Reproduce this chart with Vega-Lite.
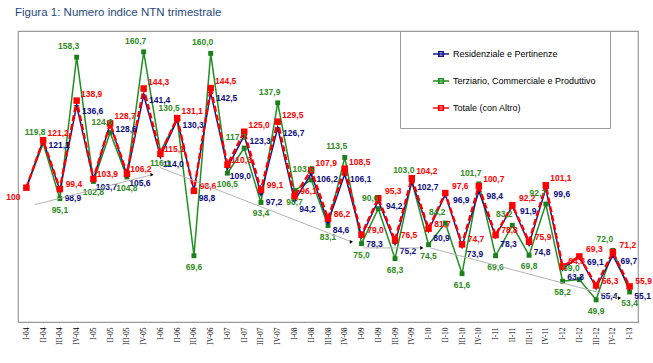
{
  "$schema": "https://vega.github.io/schema/vega-lite/v6.json",
  "width": 620,
  "height": 291,
  "autosize": {"type": "none"},
  "padding": {"left": 18, "top": 31, "right": 15, "bottom": 41},
  "background": "white",
  "title": {"text": "Figura 1: Numero indice NTN trimestrale", "anchor": "start", "frame": "group", "offset": 12, "dx": -3, "fontSize": 11.5, "font": "Liberation Sans", "fontWeight": "normal", "color": "#1f497d"},
  "config": {
    "locale": {"number": {"decimal": ",", "thousands": ".", "grouping": [3], "currency": ["", " €"]}},
    "view": {"stroke": "#9a9a9a", "strokeWidth": 1.2},
    "axis": {"grid": false, "labelOverlap": false, "labelBound": false, "labelFlush": false},
    "text": {"font": "Liberation Sans", "fontSize": 8.5, "fontWeight": "bold", "baseline": "middle", "align": "center"}
  },
  "datasets": {
    "ntn": [
      {"i": 0, "q": "I-04", "s": "Residenziale e Pertinenze", "v": 100},
      {"i": 0, "q": "I-04", "s": "Terziario, Commerciale e Produttivo", "v": 100},
      {"i": 0, "q": "I-04", "s": "Totale (con Altro)", "v": 100},
      {"i": 1, "q": "II-04", "s": "Residenziale e Pertinenze", "v": 121.1},
      {"i": 1, "q": "II-04", "s": "Terziario, Commerciale e Produttivo", "v": 119.8},
      {"i": 1, "q": "II-04", "s": "Totale (con Altro)", "v": 121.2},
      {"i": 2, "q": "III-04", "s": "Residenziale e Pertinenze", "v": 98.9},
      {"i": 2, "q": "III-04", "s": "Terziario, Commerciale e Produttivo", "v": 95.1},
      {"i": 2, "q": "III-04", "s": "Totale (con Altro)", "v": 99.4},
      {"i": 3, "q": "IV-04", "s": "Residenziale e Pertinenze", "v": 136.6},
      {"i": 3, "q": "IV-04", "s": "Terziario, Commerciale e Produttivo", "v": 158.3},
      {"i": 3, "q": "IV-04", "s": "Totale (con Altro)", "v": 138.9},
      {"i": 4, "q": "I-05", "s": "Residenziale e Pertinenze", "v": 103.7},
      {"i": 4, "q": "I-05", "s": "Terziario, Commerciale e Produttivo", "v": 102.8},
      {"i": 4, "q": "I-05", "s": "Totale (con Altro)", "v": 103.9},
      {"i": 5, "q": "II-05", "s": "Residenziale e Pertinenze", "v": 128.6},
      {"i": 5, "q": "II-05", "s": "Terziario, Commerciale e Produttivo", "v": 124.6},
      {"i": 5, "q": "II-05", "s": "Totale (con Altro)", "v": 128.7},
      {"i": 6, "q": "III-05", "s": "Residenziale e Pertinenze", "v": 105.6},
      {"i": 6, "q": "III-05", "s": "Terziario, Commerciale e Produttivo", "v": 104.8},
      {"i": 6, "q": "III-05", "s": "Totale (con Altro)", "v": 106.2},
      {"i": 7, "q": "IV-05", "s": "Residenziale e Pertinenze", "v": 141.4},
      {"i": 7, "q": "IV-05", "s": "Terziario, Commerciale e Produttivo", "v": 160.7},
      {"i": 7, "q": "IV-05", "s": "Totale (con Altro)", "v": 144.3},
      {"i": 8, "q": "I-06", "s": "Residenziale e Pertinenze", "v": 114.0},
      {"i": 8, "q": "I-06", "s": "Terziario, Commerciale e Produttivo", "v": 116.1},
      {"i": 8, "q": "I-06", "s": "Totale (con Altro)", "v": 115.1},
      {"i": 9, "q": "II-06", "s": "Residenziale e Pertinenze", "v": 130.3},
      {"i": 9, "q": "II-06", "s": "Terziario, Commerciale e Produttivo", "v": 130.5},
      {"i": 9, "q": "II-06", "s": "Totale (con Altro)", "v": 131.1},
      {"i": 10, "q": "III-06", "s": "Residenziale e Pertinenze", "v": 98.8},
      {"i": 10, "q": "III-06", "s": "Terziario, Commerciale e Produttivo", "v": 69.6},
      {"i": 10, "q": "III-06", "s": "Totale (con Altro)", "v": 98.6},
      {"i": 11, "q": "IV-06", "s": "Residenziale e Pertinenze", "v": 142.5},
      {"i": 11, "q": "IV-06", "s": "Terziario, Commerciale e Produttivo", "v": 160.0},
      {"i": 11, "q": "IV-06", "s": "Totale (con Altro)", "v": 144.5},
      {"i": 12, "q": "I-07", "s": "Residenziale e Pertinenze", "v": 109.0},
      {"i": 12, "q": "I-07", "s": "Terziario, Commerciale e Produttivo", "v": 106.5},
      {"i": 12, "q": "I-07", "s": "Totale (con Altro)", "v": 110.3},
      {"i": 13, "q": "II-07", "s": "Residenziale e Pertinenze", "v": 123.3},
      {"i": 13, "q": "II-07", "s": "Terziario, Commerciale e Produttivo", "v": 117.7},
      {"i": 13, "q": "II-07", "s": "Totale (con Altro)", "v": 125.0},
      {"i": 14, "q": "III-07", "s": "Residenziale e Pertinenze", "v": 97.2},
      {"i": 14, "q": "III-07", "s": "Terziario, Commerciale e Produttivo", "v": 93.4},
      {"i": 14, "q": "III-07", "s": "Totale (con Altro)", "v": 99.1},
      {"i": 15, "q": "IV-07", "s": "Residenziale e Pertinenze", "v": 126.7},
      {"i": 15, "q": "IV-07", "s": "Terziario, Commerciale e Produttivo", "v": 137.9},
      {"i": 15, "q": "IV-07", "s": "Totale (con Altro)", "v": 129.5},
      {"i": 16, "q": "I-08", "s": "Residenziale e Pertinenze", "v": 94.2},
      {"i": 16, "q": "I-08", "s": "Terziario, Commerciale e Produttivo", "v": 98.7},
      {"i": 16, "q": "I-08", "s": "Totale (con Altro)", "v": 96.1},
      {"i": 17, "q": "II-08", "s": "Residenziale e Pertinenze", "v": 106.2},
      {"i": 17, "q": "II-08", "s": "Terziario, Commerciale e Produttivo", "v": 103.5},
      {"i": 17, "q": "II-08", "s": "Totale (con Altro)", "v": 107.9},
      {"i": 18, "q": "III-08", "s": "Residenziale e Pertinenze", "v": 84.6},
      {"i": 18, "q": "III-08", "s": "Terziario, Commerciale e Produttivo", "v": 83.1},
      {"i": 18, "q": "III-08", "s": "Totale (con Altro)", "v": 86.2},
      {"i": 19, "q": "IV-08", "s": "Residenziale e Pertinenze", "v": 106.1},
      {"i": 19, "q": "IV-08", "s": "Terziario, Commerciale e Produttivo", "v": 113.5},
      {"i": 19, "q": "IV-08", "s": "Totale (con Altro)", "v": 108.5},
      {"i": 20, "q": "I-09", "s": "Residenziale e Pertinenze", "v": 78.3},
      {"i": 20, "q": "I-09", "s": "Terziario, Commerciale e Produttivo", "v": 75.0},
      {"i": 20, "q": "I-09", "s": "Totale (con Altro)", "v": 79.0},
      {"i": 21, "q": "II-09", "s": "Residenziale e Pertinenze", "v": 94.2},
      {"i": 21, "q": "II-09", "s": "Terziario, Commerciale e Produttivo", "v": 90.6},
      {"i": 21, "q": "II-09", "s": "Totale (con Altro)", "v": 95.3},
      {"i": 22, "q": "III-09", "s": "Residenziale e Pertinenze", "v": 75.2},
      {"i": 22, "q": "III-09", "s": "Terziario, Commerciale e Produttivo", "v": 68.3},
      {"i": 22, "q": "III-09", "s": "Totale (con Altro)", "v": 76.5},
      {"i": 23, "q": "IV-09", "s": "Residenziale e Pertinenze", "v": 102.7},
      {"i": 23, "q": "IV-09", "s": "Terziario, Commerciale e Produttivo", "v": 103.0},
      {"i": 23, "q": "IV-09", "s": "Totale (con Altro)", "v": 104.2},
      {"i": 24, "q": "I-10", "s": "Residenziale e Pertinenze", "v": 80.9},
      {"i": 24, "q": "I-10", "s": "Terziario, Commerciale e Produttivo", "v": 74.5},
      {"i": 24, "q": "I-10", "s": "Totale (con Altro)", "v": 81.7},
      {"i": 25, "q": "II-10", "s": "Residenziale e Pertinenze", "v": 96.9},
      {"i": 25, "q": "II-10", "s": "Terziario, Commerciale e Produttivo", "v": 84.2},
      {"i": 25, "q": "II-10", "s": "Totale (con Altro)", "v": 97.6},
      {"i": 26, "q": "III-10", "s": "Residenziale e Pertinenze", "v": 73.9},
      {"i": 26, "q": "III-10", "s": "Terziario, Commerciale e Produttivo", "v": 61.6},
      {"i": 26, "q": "III-10", "s": "Totale (con Altro)", "v": 74.7},
      {"i": 27, "q": "IV-10", "s": "Residenziale e Pertinenze", "v": 98.4},
      {"i": 27, "q": "IV-10", "s": "Terziario, Commerciale e Produttivo", "v": 101.7},
      {"i": 27, "q": "IV-10", "s": "Totale (con Altro)", "v": 100.7},
      {"i": 28, "q": "I-11", "s": "Residenziale e Pertinenze", "v": 78.3},
      {"i": 28, "q": "I-11", "s": "Terziario, Commerciale e Produttivo", "v": 69.6},
      {"i": 28, "q": "I-11", "s": "Totale (con Altro)", "v": 78.8},
      {"i": 29, "q": "II-11", "s": "Residenziale e Pertinenze", "v": 91.9},
      {"i": 29, "q": "II-11", "s": "Terziario, Commerciale e Produttivo", "v": 83.2},
      {"i": 29, "q": "II-11", "s": "Totale (con Altro)", "v": 92.2},
      {"i": 30, "q": "III-11", "s": "Residenziale e Pertinenze", "v": 74.8},
      {"i": 30, "q": "III-11", "s": "Terziario, Commerciale e Produttivo", "v": 69.8},
      {"i": 30, "q": "III-11", "s": "Totale (con Altro)", "v": 75.9},
      {"i": 31, "q": "IV-11", "s": "Residenziale e Pertinenze", "v": 99.6},
      {"i": 31, "q": "IV-11", "s": "Terziario, Commerciale e Produttivo", "v": 92.7},
      {"i": 31, "q": "IV-11", "s": "Totale (con Altro)", "v": 101.1},
      {"i": 32, "q": "I-12", "s": "Residenziale e Pertinenze", "v": 63.8},
      {"i": 32, "q": "I-12", "s": "Terziario, Commerciale e Produttivo", "v": 58.2},
      {"i": 32, "q": "I-12", "s": "Totale (con Altro)", "v": 64.8},
      {"i": 33, "q": "II-12", "s": "Residenziale e Pertinenze", "v": 69.1},
      {"i": 33, "q": "II-12", "s": "Terziario, Commerciale e Produttivo", "v": 59.0},
      {"i": 33, "q": "II-12", "s": "Totale (con Altro)", "v": 69.3},
      {"i": 34, "q": "III-12", "s": "Residenziale e Pertinenze", "v": 55.4},
      {"i": 34, "q": "III-12", "s": "Terziario, Commerciale e Produttivo", "v": 49.9},
      {"i": 34, "q": "III-12", "s": "Totale (con Altro)", "v": 56.3},
      {"i": 35, "q": "IV-12", "s": "Residenziale e Pertinenze", "v": 69.7},
      {"i": 35, "q": "IV-12", "s": "Terziario, Commerciale e Produttivo", "v": 72.0},
      {"i": 35, "q": "IV-12", "s": "Totale (con Altro)", "v": 71.2},
      {"i": 36, "q": "I-13", "s": "Residenziale e Pertinenze", "v": 55.1},
      {"i": 36, "q": "I-13", "s": "Terziario, Commerciale e Produttivo", "v": 53.4},
      {"i": 36, "q": "I-13", "s": "Totale (con Altro)", "v": 55.9}
    ],
    "trend": [
      {"x1": 0.5, "y1": 92.4, "x2": 7.5, "y2": 105.8},
      {"x1": 7.97, "y1": 109.0, "x2": 19.4, "y2": 75.8},
      {"x1": 20.1, "y1": 73.1, "x2": 23.6, "y2": 73.1},
      {"x1": 24.1, "y1": 73.1, "x2": 35.4, "y2": 50.7}
    ]
  },
  "encoding": {
    "y": {"type": "quantitative", "scale": {"domain": [40, 170], "nice": false, "zero": false}, "axis": null}
  },
  "layer": [
    {
      "data": {"name": "ntn"},
      "transform": [{"window": [{"op": "lag", "field": "v", "as": "prev"}], "groupby": ["s"], "sort": [{"field": "i", "order": "ascending"}]}],
      "encoding": {
        "x": {"field": "i", "type": "quantitative",
              "scale": {"domain": [-0.5, 36.5], "nice": false, "zero": false},
              "axis": {"title": null, "values": [0,1,2,3,4,5,6,7,8,9,10,11,12,13,14,15,16,17,18,19,20,21,22,23,24,25,26,27,28,29,30,31,32,33,34,35,36],
                "labelExpr": "['I-04','II-04','III-04','IV-04','I-05','II-05','III-05','IV-05','I-06','II-06','III-06','IV-06','I-07','II-07','III-07','IV-07','I-08','II-08','III-08','IV-08','I-09','II-09','III-09','IV-09','I-10','II-10','III-10','IV-10','I-11','II-11','III-11','IV-11','I-12','II-12','III-12','IV-12','I-13'][datum.value]",
                "labelAngle": -90, "labelFont": "Liberation Serif", "labelFontSize": 7.5, "labelColor": "black", "ticks": false, "domain": false, "labelPadding": 5, "labelFlush": false, "labelOverlap": false, "labelSeparation": 0}},
        "y": {"field": "v"}
      },
      "layer": [
        {
          "transform": [{"filter": "datum.s == 'Terziario, Commerciale e Produttivo'"}],
          "mark": {"type": "line", "strokeWidth": 1.5},
          "encoding": {
            "color": {"field": "s", "type": "nominal",
              "scale": {"domain": ["Residenziale e Pertinenze", "Terziario, Commerciale e Produttivo", "Totale (con Altro)"], "range": ["#16168a", "#1f8f1f", "#ff0000"]},
              "legend": {"title": null, "orient": "none", "legendX": 382, "legendY": 0, "padding": 14, "symbolOffset": 18, "strokeColor": "#9a9a9a",
                "symbolType": "M-1,0H1M-0.28,-0.28H0.28V0.28H-0.28Z", "symbolSize": 256, "symbolStrokeWidth": 1.6,
                "labelFont": "Liberation Sans", "labelFontSize": 9, "labelColor": "black", "rowPadding": 12, "labelOffset": 3, "labelLimit": 300}
            }
          }
        },
        {
          "transform": [{"filter": "datum.s == 'Terziario, Commerciale e Produttivo'"}],
          "mark": {"type": "point", "shape": "square", "filled": true, "size": 24, "color": "#1a801a", "opacity": 1}
        },
        {
          "transform": [{"filter": "datum.s == 'Residenziale e Pertinenze'"}],
          "mark": {"type": "line", "strokeWidth": 1.5},
          "encoding": {"color": {"field": "s", "type": "nominal"}}
        },
        {
          "transform": [{"filter": "datum.s == 'Residenziale e Pertinenze'"}],
          "mark": {"type": "point", "shape": "M0,-1L0.25,-0.25L1,0L0.25,0.25L0,1L-0.25,0.25L-1,0L-0.25,-0.25Z", "filled": true, "size": 45, "color": "#10107a", "opacity": 1}
        },
        {
          "transform": [{"filter": "datum.s == 'Totale (con Altro)'"}],
          "mark": {"type": "line", "strokeWidth": 2.4, "strokeDash": [6, 3]},
          "encoding": {"color": {"field": "s", "type": "nominal"}}
        },
        {
          "transform": [{"filter": "datum.s == 'Totale (con Altro)'"}],
          "mark": {"type": "point", "shape": "square", "filled": true, "size": 42, "color": "#ff0000", "opacity": 1}
        },
        {
          "transform": [{"filter": "datum.s == 'Residenziale e Pertinenze' && datum.prev != null && datum.v >= datum.prev"}],
          "mark": {"type": "text", "color": "#0b0b80", "dx": 16, "dy": 5},
          "encoding": {"text": {"field": "v", "type": "quantitative", "format": ".1f"}}
        },
        {
          "transform": [{"filter": "datum.s == 'Residenziale e Pertinenze' && datum.prev != null && datum.v < datum.prev"}],
          "mark": {"type": "text", "color": "#0b0b80", "dx": 13, "dy": 8},
          "encoding": {"text": {"field": "v", "type": "quantitative", "format": ".1f"}}
        },
        {
          "transform": [{"filter": "datum.s == 'Totale (con Altro)' && datum.prev != null && datum.v >= datum.prev"}],
          "mark": {"type": "text", "color": "#ff0000", "dx": 15, "dy": -7},
          "encoding": {"text": {"field": "v", "type": "quantitative", "format": ".1f"}}
        },
        {
          "transform": [{"filter": "datum.s == 'Totale (con Altro)' && datum.prev != null && datum.v < datum.prev"}],
          "mark": {"type": "text", "color": "#ff0000", "dx": 14, "dy": -5},
          "encoding": {"text": {"field": "v", "type": "quantitative", "format": ".1f"}}
        },
        {
          "transform": [{"filter": "datum.s == 'Totale (con Altro)' && datum.q == 'I-04'"}],
          "mark": {"type": "text", "color": "#ff0000", "dx": -13, "dy": 9},
          "encoding": {"text": {"field": "v", "type": "quantitative", "format": ".0f"}}
        },
        {
          "transform": [{"filter": "datum.s == 'Terziario, Commerciale e Produttivo' && datum.prev != null && datum.v >= datum.prev"}],
          "mark": {"type": "text", "color": "#2e8b22", "dx": -8, "dy": -11},
          "encoding": {"text": {"field": "v", "type": "quantitative", "format": ".1f"}}
        },
        {
          "transform": [{"filter": "datum.s == 'Terziario, Commerciale e Produttivo' && datum.prev != null && datum.v < datum.prev"}],
          "mark": {"type": "text", "color": "#2e8b22", "dx": 0, "dy": 11},
          "encoding": {"text": {"field": "v", "type": "quantitative", "format": ".1f"}}
        }
      ]
    },
    {
      "data": {"name": "trend"},
      "mark": {"type": "rule", "color": "#b4b4b4", "strokeWidth": 1},
      "encoding": {
        "x": {"field": "x1", "type": "quantitative",
              "axis": {"title": null, "values": [0,1,2,3,4,5,6,7,8,9,10,11,12,13,14,15,16,17,18,19,20,21,22,23,24,25,26,27,28,29,30,31,32,33,34,35,36],
                "labelExpr": "['I-04','II-04','III-04','IV-04','I-05','II-05','III-05','IV-05','I-06','II-06','III-06','IV-06','I-07','II-07','III-07','IV-07','I-08','II-08','III-08','IV-08','I-09','II-09','III-09','IV-09','I-10','II-10','III-10','IV-10','I-11','II-11','III-11','IV-11','I-12','II-12','III-12','IV-12','I-13'][datum.value]",
                "labelAngle": -90, "labelFont": "Liberation Serif", "labelFontSize": 7.5, "labelColor": "black", "ticks": false, "domain": false, "labelPadding": 5, "labelFlush": false, "labelOverlap": false, "labelSeparation": 0}},
        "x2": {"field": "x2"},
        "y": {"field": "y1"},
        "y2": {"field": "y2"}
      }
    },
    {
      "data": {"name": "trend"},
      "mark": {"type": "point", "shape": "triangle-right", "filled": true, "color": "black", "size": 14, "opacity": 1},
      "encoding": {
        "x": {"field": "x2", "type": "quantitative",
              "axis": {"title": null, "values": [0,1,2,3,4,5,6,7,8,9,10,11,12,13,14,15,16,17,18,19,20,21,22,23,24,25,26,27,28,29,30,31,32,33,34,35,36],
                "labelExpr": "['I-04','II-04','III-04','IV-04','I-05','II-05','III-05','IV-05','I-06','II-06','III-06','IV-06','I-07','II-07','III-07','IV-07','I-08','II-08','III-08','IV-08','I-09','II-09','III-09','IV-09','I-10','II-10','III-10','IV-10','I-11','II-11','III-11','IV-11','I-12','II-12','III-12','IV-12','I-13'][datum.value]",
                "labelAngle": -90, "labelFont": "Liberation Serif", "labelFontSize": 7.5, "labelColor": "black", "ticks": false, "domain": false, "labelPadding": 5, "labelFlush": false, "labelOverlap": false, "labelSeparation": 0}},
        "y": {"field": "y2"}
      }
    }
  ]
}
